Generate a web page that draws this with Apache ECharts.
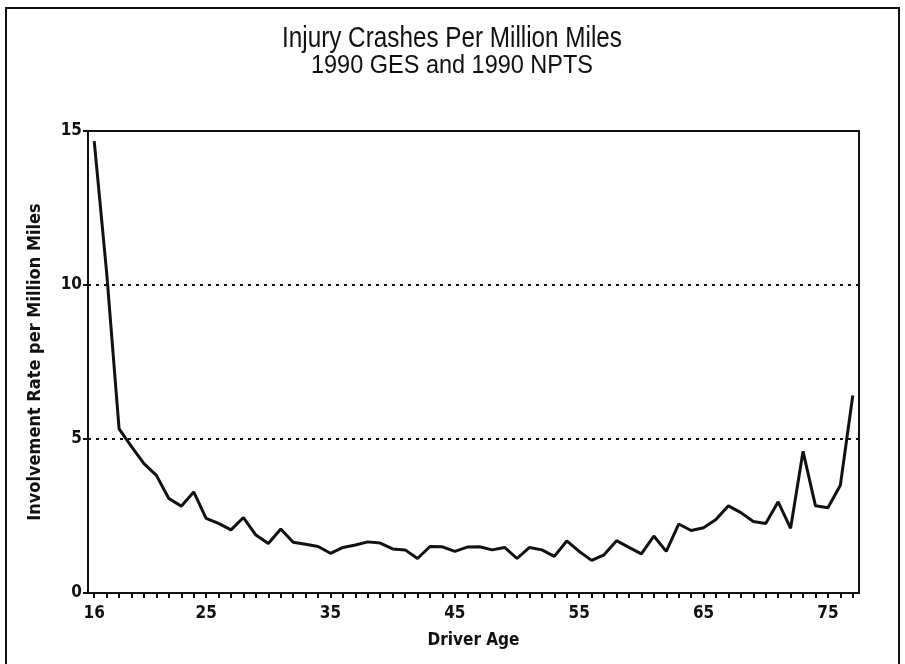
<!DOCTYPE html>
<html>
<head>
<meta charset="utf-8">
<script src="https://cdn.jsdelivr.net/npm/echarts@6/dist/echarts.min.js"></script>
<style>
html,body{margin:0;padding:0;background:#fff;}
#chart{width:905px;height:664px;}
</style>
</head>
<body>
<div id="chart"></div>
<script>
var titleText = 'Injury Crashes Per Million Miles';
var subtitleText = '1990 GES and 1990 NPTS';
var xAxisName = 'Driver Age';
var yAxisName = 'Involvement Rate per Million Miles';
var ages = [16,17,18,19,20,21,22,23,24,25,26,27,28,29,30,31,32,33,34,35,36,37,38,39,40,41,42,43,44,45,46,47,48,49,50,51,52,53,54,55,56,57,58,59,60,61,62,63,64,65,66,67,68,69,70,71,72,73,74,75,76,77];
var rates = [14.67,10.4,5.33,4.75,4.2,3.82,3.07,2.82,3.28,2.42,2.26,2.05,2.45,1.88,1.61,2.08,1.65,1.58,1.51,1.29,1.48,1.56,1.66,1.62,1.43,1.40,1.12,1.51,1.50,1.35,1.49,1.50,1.40,1.48,1.12,1.48,1.40,1.19,1.69,1.35,1.06,1.24,1.70,1.48,1.27,1.85,1.35,2.24,2.03,2.12,2.39,2.83,2.61,2.32,2.26,2.96,2.10,4.60,2.83,2.77,3.50,6.41];
var xTickLabels = [16,25,35,45,55,65,75];
var yTicks = [0,5,10,15];

var FONT = '"DejaVu Sans Condensed","Liberation Sans Narrow","Liberation Sans",Arial,sans-serif';
var TFONT = '"Liberation Sans",Arial,sans-serif';

function measure(text, size){
  var c = document.createElement('canvas').getContext('2d');
  c.font = 'normal ' + size + 'px ' + TFONT;
  return c.measureText(text).width;
}
var titleSize = 30, subSize = 26;
var titleScale = 340 / measure(titleText, titleSize);
var subScale = 282 / measure(subtitleText, subSize);

var chart = echarts.init(document.getElementById('chart'), null, {renderer:'canvas'});
chart.setOption({
  backgroundColor:'#fff',
  animation:false,
  graphic:[
    {type:'rect', shape:{x:6, y:8, width:893, height:670}, style:{fill:'none', stroke:'#111', lineWidth:2}, silent:true},
    {type:'text', x:452, y:39, scaleX:titleScale, silent:true,
      style:{text:titleText, align:'center', verticalAlign:'middle', font:'normal ' + titleSize + 'px ' + TFONT, fill:'#111'}},
    {type:'text', x:452, y:66, scaleX:subScale, silent:true,
      style:{text:subtitleText, align:'center', verticalAlign:'middle', font:'normal ' + subSize + 'px ' + TFONT, fill:'#111'}}
  ],
  grid:{left:88, right:46, top:131, bottom:71, show:true, borderColor:'#111', borderWidth:2, backgroundColor:'transparent'},
  xAxis:{
    type:'category', data:ages, boundaryGap:true,
    name:xAxisName, nameLocation:'middle', nameGap:39,
    nameTextStyle:{fontFamily:FONT, fontSize:17, fontWeight:'bold', color:'#111'},
    axisLine:{lineStyle:{color:'#111', width:2}},
    axisTick:{show:true, alignWithLabel:true, interval:0, length:5, lineStyle:{color:'#111', width:2}},
    axisLabel:{
      interval:function(i, v){ return xTickLabels.indexOf(Number(v)) >= 0; },
      fontFamily:FONT, fontSize:17, fontWeight:'bold', color:'#111', margin:12
    },
    splitLine:{show:false}
  },
  yAxis:{
    type:'value', min:0, max:15, interval:5,
    name:yAxisName, nameLocation:'middle', nameGap:44, nameRotate:90,
    nameTextStyle:{fontFamily:FONT, fontSize:18, fontWeight:'bold', color:'#111'},
    axisLine:{show:true, lineStyle:{color:'#111', width:2}},
    axisTick:{show:true, length:5, lineStyle:{color:'#111', width:2}},
    axisLabel:{fontFamily:FONT, fontSize:17, fontWeight:'bold', color:'#111', margin:6, padding:[5,0,0,0],
      formatter:function(v){ return yTicks.indexOf(v) >= 0 ? String(v) : ''; }},
    splitLine:{show:true, lineStyle:{color:'#111', width:2, type:[3,5]}}
  },
  series:[{
    type:'line', data:rates, symbol:'none', smooth:false,
    lineStyle:{color:'#111', width:3}
  }]
});
</script>
</body>
</html>
